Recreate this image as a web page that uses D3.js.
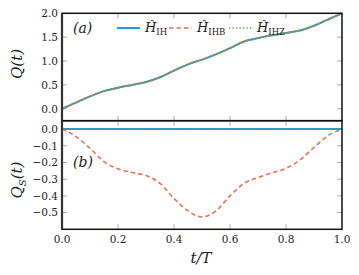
<!DOCTYPE html>
<html>
<head>
<meta charset="utf-8">
<script src="https://cdn.jsdelivr.net/npm/d3@7"></script>
<style>
  body { margin: 0; background: #fff; }
</style>
</head>
<body>
<svg id="chart" width="359" height="275"></svg>
<script>
// t/T grid and values
var tGrid = [0, 0.05, 0.1, 0.15, 0.2, 0.25, 0.3, 0.35, 0.4, 0.45, 0.5,
             0.55, 0.6, 0.65, 0.7, 0.75, 0.8, 0.85, 0.9, 0.95, 1.0];
var qIH  = [0, 0.13, 0.26, 0.37, 0.44, 0.5, 0.56, 0.66, 0.8, 0.93, 1.03,
            1.14, 1.27, 1.41, 1.48, 1.54, 1.59, 1.64, 1.74, 1.87, 2.0];
var qIHB = [0, 0.13, 0.26, 0.37, 0.44, 0.5, 0.56, 0.66, 0.8, 0.93, 1.03,
            1.14, 1.27, 1.41, 1.48, 1.54, 1.59, 1.64, 1.74, 1.87, 2.0];
var qIHZ = [0, 0.13, 0.26, 0.37, 0.44, 0.5, 0.56, 0.66, 0.8, 0.93, 1.03,
            1.14, 1.27, 1.41, 1.48, 1.54, 1.59, 1.64, 1.74, 1.87, 2.0];
var qsIH  = [0, 0, 0, 0, 0, 0, 0, 0, 0, 0, 0, 0, 0, 0, 0, 0, 0, 0, 0, 0, 0];
var qsIHB = [0, -0.045, -0.115, -0.195, -0.238, -0.26, -0.278, -0.325, -0.415, -0.49, -0.526,
             -0.49, -0.40, -0.325, -0.29, -0.262, -0.235, -0.185, -0.11, -0.04, 0];
var qsIHZ = [0, 0, 0, 0, 0, 0, 0, 0, 0, 0, 0, 0, 0, 0, 0, 0, 0, 0, 0, 0, 0];
var xTicks = [0, 0.2, 0.4, 0.6, 0.8, 1.0];
var yTicksA = [0, 0.5, 1.0, 1.5, 2.0];
var yTicksB = [0, -0.1, -0.2, -0.3, -0.4, -0.5];
var seriesNames = ["IH", "IHB", "IHZ"];

var colors = ["#1c9ce6", "#e8724a", "#4bab4b"];
var dashes = [null, "4.5,3", "1.3,2.2"];
var widths = [2, 1.6, 1.6];
var serif = "'DejaVu Serif', 'Liberation Serif', serif";

var svg = d3.select("#chart")
  .attr("font-family", serif)
  .style("font-family", serif);
var left = 62, right = 342;

var x = d3.scaleLinear().domain([0, 1]).range([left, right]);
var yA = d3.scaleLinear().domain([-0.25, 2.0]).range([120.7, 13.3]);
var yB = d3.scaleLinear().domain([-0.6, 0.05]).range([229.3, 120.7]);

function label(sel) {
  return sel.append("text").style("font-family", serif).attr("fill", "#222");
}

function drawPanel(y, ticks, series, top, bottom, fmt) {
  var g = svg.append("g");
  // y ticks, inside on left and right
  ticks.forEach(function(v) {
    g.append("line").attr("x1", left).attr("x2", left + 5)
      .attr("y1", y(v)).attr("y2", y(v))
      .attr("stroke", "#aaa").attr("stroke-width", 1);
    g.append("line").attr("x1", right - 5).attr("x2", right)
      .attr("y1", y(v)).attr("y2", y(v))
      .attr("stroke", "#aaa").attr("stroke-width", 1);
    label(g).attr("x", left - 4).attr("y", y(v) + 3.8)
      .attr("text-anchor", "end").style("font-size", "10.5px")
      .text(fmt(v));
  });
  xTicks.slice(1, -1).forEach(function(v) {
    g.append("line").attr("x1", x(v)).attr("x2", x(v))
      .attr("y1", top).attr("y2", top + 5)
      .attr("stroke", "#aaa").attr("stroke-width", 1);
    g.append("line").attr("x1", x(v)).attr("x2", x(v))
      .attr("y1", bottom - 5).attr("y2", bottom)
      .attr("stroke", "#aaa").attr("stroke-width", 1);
  });

  var line = d3.line()
    .x(function(d) { return x(d[0]); })
    .y(function(d) { return y(d[1]); })
    .curve(d3.curveMonotoneX);

  series.forEach(function(vals, i) {
    g.append("path")
      .datum(tGrid.map(function(t, k) { return [t, vals[k]]; }))
      .attr("d", line)
      .attr("fill", "none")
      .attr("stroke", colors[i])
      .attr("stroke-width", widths[i])
      .attr("stroke-dasharray", dashes[i]);
  });

  g.append("rect").attr("x", left).attr("y", top)
    .attr("width", right - left).attr("height", bottom - top)
    .attr("fill", "none").attr("stroke", "#111").attr("stroke-width", 1.5);
  g.append("line").attr("x1", left).attr("x2", left)
    .attr("y1", top).attr("y2", bottom)
    .attr("stroke", "#333").attr("stroke-width", 2.2);
  return g;
}

var fmt = function(v) { return d3.format(".1f")(v).replace("-", "\u2212"); };
drawPanel(yA, yTicksA, [qIH, qIHB, qIHZ], 13.3, 120.7, fmt);
drawPanel(yB, yTicksB, [qsIH, qsIHB, qsIHZ], 120.7, 229.3, fmt);

// x tick labels
xTicks.forEach(function(v) {
  label(svg).attr("x", x(v)).attr("y", 243)
    .attr("text-anchor", "middle").style("font-size", "10.5px")
    .text(d3.format(".1f")(v));
});

// axis labels
label(svg).attr("x", 201).attr("y", 263)
  .attr("text-anchor", "middle").style("font-size", "15px").style("font-style", "italic")
  .text("t/T");
label(svg).attr("transform", "translate(22,64) rotate(-90)")
  .attr("text-anchor", "middle").style("font-size", "15px").style("font-style", "italic")
  .text("Q(t)");
var qs = label(svg).attr("transform", "translate(22,180) rotate(-90)")
  .attr("text-anchor", "middle").style("font-size", "15px").style("font-style", "italic");
qs.append("tspan").text("Q");
qs.append("tspan").attr("dy", 4).style("font-size", "10px").text("S");
qs.append("tspan").attr("dy", -4).text("(t)");

// panel labels
label(svg).attr("x", 73).attr("y", 33).style("font-size", "14px")
  .style("font-style", "italic").text("(a)");
label(svg).attr("x", 73).attr("y", 167).style("font-size", "14px")
  .style("font-style", "italic").text("(b)");

// legend
var legX = [117, 169, 229];
seriesNames.forEach(function(name, i) {
  var lg = svg.append("g");
  lg.append("line").attr("x1", legX[i]).attr("x2", legX[i] + 23)
    .attr("y1", 28).attr("y2", 28)
    .attr("stroke", colors[i]).attr("stroke-width", widths[i])
    .attr("stroke-dasharray", dashes[i]);
  var t = label(lg).attr("x", legX[i] + 28).attr("y", 32)
    .style("font-size", "13px");
  t.append("tspan").style("font-style", "italic").text("\u0124");
  t.append("tspan").attr("dy", 3).style("font-size", "8.5px").text(name);
});
</script>
</body>
</html>
